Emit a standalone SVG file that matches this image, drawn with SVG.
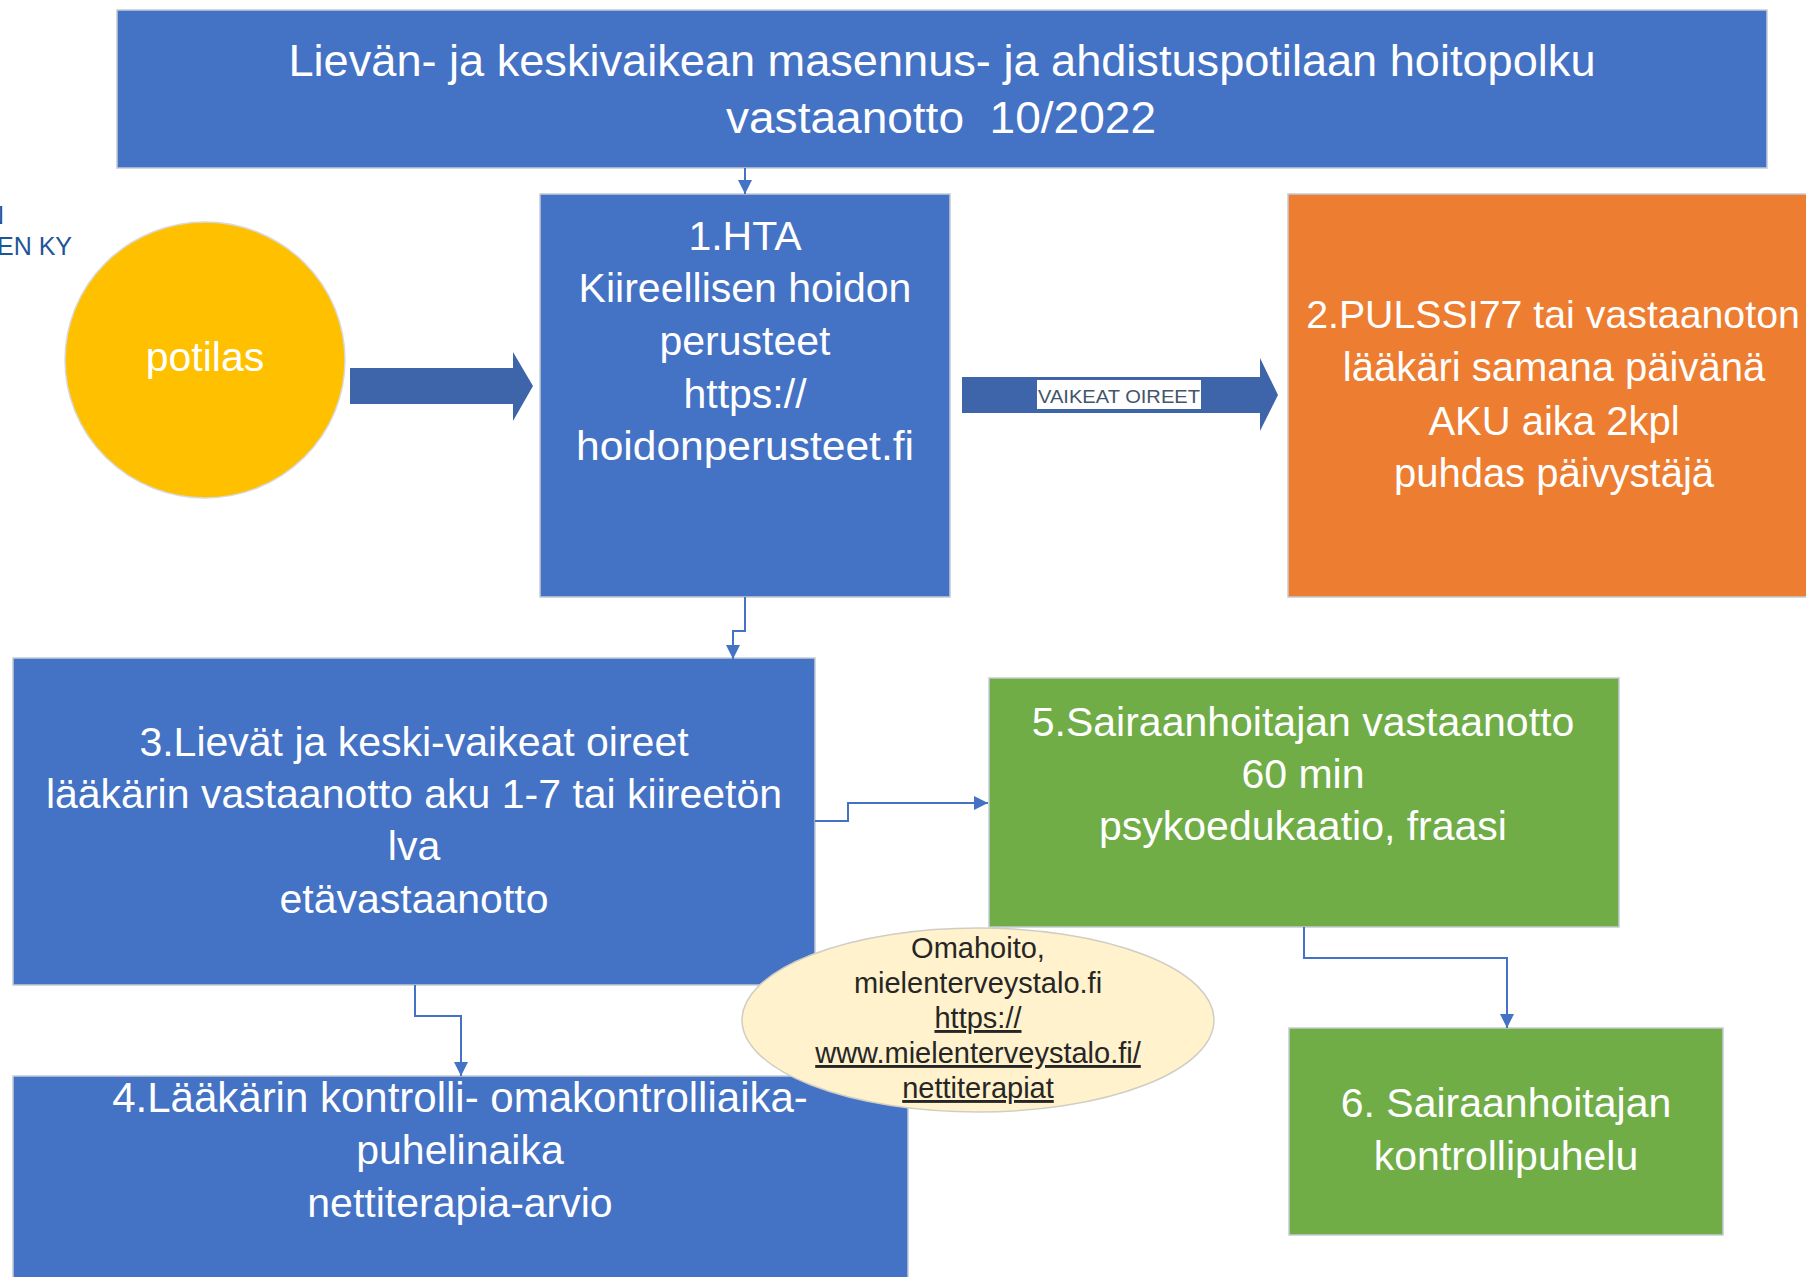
<svg xmlns="http://www.w3.org/2000/svg" width="1806" height="1277" viewBox="0 0 1806 1277">
<style>
.box{stroke:#C5CAD3;stroke-width:1.5}
.blue{fill:#4472C4}
.orange{fill:#ED7D31}
.green{fill:#70AD47}
.t{font-family:"Liberation Sans",Arial,sans-serif;fill:#FFFFFF;text-anchor:middle;font-size:41px}
.title{font-size:45px}
.o40{font-size:40px}
.o1{font-size:39.3px}
.k42{font-size:42px}
.conn{fill:none;stroke:#4472C4;stroke-width:2}
.blk{fill:#3E65AA}
.note{font-family:"Liberation Sans",Arial,sans-serif;fill:#262626;text-anchor:middle;font-size:29px}
.logo{font-family:"Liberation Sans",Arial,sans-serif;fill:#1F5597;text-anchor:end;font-size:25px}
</style>
<defs>
<marker id="ah" markerUnits="userSpaceOnUse" markerWidth="14" markerHeight="14" viewBox="0 0 14 14" refX="14" refY="7" orient="auto">
<path d="M0,0 L14,7 L0,14 Z" fill="#4472C4"/>
</marker>
</defs>

<g id="logo-text">
<text class="logo" x="4" y="224">N</text>
<text class="logo" x="72" y="255">EN KY</text>
</g>

<g id="title">
<rect class="box blue" x="117" y="10" width="1650" height="158"/>
<text class="t title" x="942" y="76" textLength="1307" lengthAdjust="spacingAndGlyphs">Lievän- ja keskivaikean masennus- ja ahdistuspotilaan hoitopolku</text>
<text class="t title" x="941" y="133" xml:space="preserve" textLength="430" lengthAdjust="spacingAndGlyphs">vastaanotto  10/2022</text>
</g>

<g id="potilas">
<ellipse cx="205" cy="360" rx="140" ry="138" fill="#FFC000" stroke="#D9D9D9" stroke-width="1.5"/>
<text class="t" x="205" y="371">potilas</text>
</g>

<g id="n1-hta">
<rect class="box blue" x="540" y="194" width="410" height="403"/>
<text class="t" x="745" y="250">1.HTA</text>
<text class="t" x="745" y="302">Kiireellisen hoidon</text>
<text class="t" x="745" y="355">perusteet</text>
<text class="t" x="745" y="408">https://</text>
<text class="t" x="745" y="460" textLength="338" lengthAdjust="spacingAndGlyphs">hoidonperusteet.fi</text>
</g>

<g id="n2-pulssi">
<rect class="box orange" x="1288" y="194" width="540" height="403"/>
<text class="t o1" x="1553" y="328">2.PULSSI77 tai vastaanoton</text>
<text class="t o40" x="1554" y="381">lääkäri samana päivänä</text>
<text class="t o40" x="1554" y="435">AKU aika 2kpl</text>
<text class="t o40" x="1554" y="487">puhdas päivystäjä</text>
</g>

<g id="n3-lievat">
<rect class="box blue" x="13" y="658" width="802" height="327"/>
<text class="t" x="414" y="756">3.Lievät ja keski-vaikeat oireet</text>
<text class="t" x="414" y="808">lääkärin vastaanotto aku 1-7 tai kiireetön</text>
<text class="t" x="414" y="860">lva</text>
<text class="t" x="414" y="913">etävastaanotto</text>
</g>

<g id="n5-sairaanhoitaja">
<rect class="box green" x="989" y="678" width="630" height="249"/>
<text class="t" x="1303" y="736">5.Sairaanhoitajan vastaanotto</text>
<text class="t" x="1303" y="788">60 min</text>
<text class="t" x="1303" y="840">psykoedukaatio, fraasi</text>
</g>

<g id="n4-kontrolli">
<rect class="box blue" x="13" y="1076" width="895" height="220"/>
<text class="t k42" x="460" y="1112">4.Lääkärin kontrolli- omakontrolliaika-</text>
<text class="t" x="460" y="1164">puhelinaika</text>
<text class="t" x="460" y="1217">nettiterapia-arvio</text>
</g>

<g id="n6-kontrollipuhelu">
<rect class="box green" x="1289" y="1028" width="434" height="207"/>
<text class="t" x="1506" y="1117">6. Sairaanhoitajan</text>
<text class="t" x="1506" y="1170">kontrollipuhelu</text>
</g>

<g id="connectors">
<path class="conn" d="M745,168 L745,194" marker-end="url(#ah)"/>
<polygon class="blk" points="350,368 513,368 513,352 533,386 513,421 513,404 350,404"/>
<polygon class="blk" points="962,377 1260,377 1260,358 1278,395 1260,431 1260,413 962,413"/>
<rect x="1037" y="380" width="164" height="29" fill="#FFFFFF"/>
<text x="1038" y="403" font-family="Liberation Sans, Arial, sans-serif" font-size="19" fill="#44546A" textLength="162" lengthAdjust="spacingAndGlyphs">VAIKEAT OIREET</text>
<path class="conn" d="M745,597 L745,631 L733,631 L733,659" marker-end="url(#ah)"/>
<path class="conn" d="M815,821 L848,821 L848,803 L988,803" marker-end="url(#ah)"/>
<path class="conn" d="M1304,927 L1304,958 L1507,958 L1507,1028" marker-end="url(#ah)"/>
<path class="conn" d="M415,985 L415,1016 L461,1016 L461,1076" marker-end="url(#ah)"/>
</g>

<g id="omahoito">
<ellipse cx="978" cy="1020" rx="236" ry="92" fill="#FFF2CC" stroke="#D0CEC4" stroke-width="1.5"/>
<text class="note" x="978" y="958">Omahoito,</text>
<text class="note" x="978" y="993">mielenterveystalo.fi</text>
<text class="note" x="978" y="1028" text-decoration="underline">https://</text>
<text class="note" x="978" y="1063" text-decoration="underline">www.mielenterveystalo.fi/</text>
<text class="note" x="978" y="1098" text-decoration="underline">nettiterapiat</text>
</g>
</svg>
